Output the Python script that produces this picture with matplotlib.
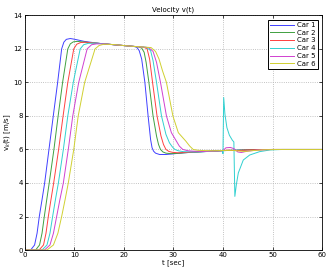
import matplotlib
matplotlib.use("Agg")
import matplotlib.pyplot as plt

# lecture a l'oeil des courbes de vitesse (t en s, v en m/s)
t_car1 = [0, 1.2, 2.0, 2.5, 2.95, 3.5, 4.03, 4.9, 5.77, 6.65, 7.46, 7.9, 8.4, 9.2, 10, 12, 15, 18, 20, 22,
          22.6, 23.1, 23.6, 24.25, 24.9, 25.4, 25.7, 26.0, 26.4, 27.2, 28.5, 30, 32, 35, 38, 40, 43, 46, 50, 60]
v_car1 = [0, 0, 0.3, 1.0, 2.0, 3.0, 4.0, 6.0, 8.0, 10.0, 12.0, 12.4, 12.57, 12.62, 12.58, 12.45, 12.33, 12.25, 12.2, 12.15,
          12.1, 11.9, 11.4, 10.0, 8.0, 6.6, 6.1, 5.9, 5.78, 5.7, 5.7, 5.74, 5.8, 5.85, 5.9, 5.93, 5.96, 5.99, 6.0, 6.0]

t_car2 = [0, 2.2, 3.0, 3.5, 3.96, 4.45, 4.95, 5.9, 6.75, 7.65, 8.7, 9.2, 9.8, 10.6, 11.5, 13, 15, 18, 20, 22,
          23, 23.6, 24.1, 24.5, 25.06, 25.9, 26.6, 27.0, 27.4, 27.9, 28.5, 29.5, 31, 33, 36, 40, 43, 46, 50, 60]
v_car2 = [0, 0, 0.3, 1.0, 2.0, 3.0, 4.0, 6.0, 8.0, 10.0, 12.0, 12.3, 12.42, 12.45, 12.42, 12.38, 12.33, 12.25, 12.2, 12.15,
          12.12, 12.05, 11.8, 11.2, 10.0, 8.0, 6.8, 6.3, 6.0, 5.85, 5.78, 5.75, 5.77, 5.82, 5.87, 5.93, 5.96, 5.99, 6.0, 6.0]

t_car3 = [0, 2.9, 3.8, 4.3, 4.77, 5.3, 5.85, 6.85, 7.75, 8.7, 9.9, 10.5, 11.3, 12.3, 13.5, 15, 18, 20, 22,
          24, 24.7, 25.2, 25.8, 26.7, 27.5, 28.0, 28.5, 29.1, 29.8, 31, 33, 36, 40, 41, 42.5, 45, 50, 60]
v_car3 = [0, 0, 0.3, 1.0, 2.0, 3.0, 4.0, 6.0, 8.0, 10.0, 12.0, 12.28, 12.38, 12.4, 12.37, 12.33, 12.25, 12.2, 12.15,
          12.11, 12.0, 11.4, 10.0, 8.0, 6.8, 6.3, 6.0, 5.88, 5.83, 5.8, 5.83, 5.88, 5.93, 5.96, 5.93, 5.97, 6.0, 6.0]

t_car4 = [0, 3.5, 4.5, 5.1, 5.64, 6.2, 6.8, 7.8, 8.7, 9.8, 11.2, 11.9, 12.8, 14, 15, 18, 20, 22,
          24.5, 25.4, 25.9, 26.6, 27.6, 28.5, 29.2, 29.8, 30.3, 31, 32, 34, 37, 39.9,
          40.0, 40.15, 40.4, 40.8, 41.3, 41.9, 42.2, 42.4, 42.7, 43.1, 44.1, 45.4, 47.4, 49.5, 52, 60]
v_car4 = [0, 0, 0.3, 1.0, 2.0, 3.0, 4.0, 6.0, 8.0, 10.0, 12.0, 12.25, 12.33, 12.35, 12.33, 12.25, 12.2, 12.15,
          12.1, 11.9, 11.3, 10.0, 8.0, 6.9, 6.4, 6.15, 6.0, 5.92, 5.87, 5.85, 5.88, 5.93,
          5.75, 9.1, 8.1, 7.3, 6.85, 6.55, 6.45, 3.2, 3.9, 4.6, 5.37, 5.67, 5.87, 5.97, 6.0, 6.0]

t_car5 = [0, 4.0, 5.1, 5.8, 6.45, 7.1, 7.8, 8.8, 9.7, 10.9, 12.6, 13.5, 14.5, 16, 18, 20, 22,
          25, 25.9, 26.6, 27.4, 28.6, 29.6, 30.6, 31.2, 31.9, 33, 34, 36, 38,
          40, 40.6, 41.5, 42.2, 43, 43.7, 45, 47, 50, 60]
v_car5 = [0, 0, 0.3, 1.0, 2.0, 3.0, 4.0, 6.0, 8.0, 10.0, 12.0, 12.25, 12.3, 12.3, 12.25, 12.2, 12.15,
          12.08, 11.85, 11.2, 10.0, 8.0, 7.0, 6.5, 6.2, 6.0, 5.92, 5.9, 5.88, 5.9,
          5.93, 6.1, 6.12, 6.05, 5.85, 5.82, 5.9, 5.97, 6.0, 6.0]

t_car6 = [0, 4.5, 5.8, 6.7, 7.46, 8.15, 8.8, 9.9, 10.8, 12.1, 14.2, 15.0, 16, 18, 20, 22,
          25.5, 26.4, 27.1, 27.8, 28.6, 29.9, 31, 32.5, 33.3, 34, 35, 36.5, 38,
          40, 42, 43.5, 44.5, 46, 48, 51, 60]
v_car6 = [0, 0, 0.3, 1.0, 2.0, 3.0, 4.0, 6.0, 8.0, 10.0, 12.0, 12.2, 12.28, 12.26, 12.2, 12.15,
          12.08, 11.85, 11.4, 10.7, 10.0, 8.0, 7.0, 6.5, 6.2, 6.0, 5.95, 5.93, 5.92,
          5.94, 5.95, 5.9, 5.88, 5.93, 5.98, 6.0, 6.0]

labels = ["Car 1", "Car 2", "Car 3", "Car 4", "Car 5", "Car 6"]
couleurs = ["#4040ff", "#40a040", "#ff4040", "#30d0d0", "#d040d0", "#d0d030"]

fig = plt.figure(figsize=(3.29, 2.70), dpi=100)
ax = fig.add_axes([0.075, 0.074, 0.904, 0.869])

courbes = [(t_car1, v_car1), (t_car2, v_car2), (t_car3, v_car3),
           (t_car4, v_car4), (t_car5, v_car5), (t_car6, v_car6)]
for k in range(len(courbes)):
    ax.plot(courbes[k][0], courbes[k][1], color=couleurs[k], linewidth=0.7, label=labels[k])

ax.set_xlim(0, 60)
ax.set_ylim(0, 14)
ax.set_xticks(range(0, 61, 10))
ax.set_yticks(range(0, 15, 2))
ax.grid(True, linestyle=':', color='#b0b0b0', linewidth=0.6)
ax.tick_params(direction='in', top=True, right=True, labelsize=5, length=2.5, width=0.5, pad=1.5)
for s in ax.spines.values():
    s.set_linewidth(0.6)

ax.set_title("Velocity v(t)", fontsize=5, pad=3)
ax.set_xlabel("t [sec]", fontsize=5, labelpad=0.5)
ax.set_ylabel(r"v$_k$(t) [m/s]", fontsize=5, labelpad=0.5)

leg = ax.legend(loc='upper right', fontsize=5, fancybox=False, framealpha=1,
                handlelength=3.4, borderpad=0.35, labelspacing=0.25, handletextpad=0.4,
                borderaxespad=0.6)
leg.get_frame().set_edgecolor('black')
leg.get_frame().set_linewidth(0.7)

plt.savefig("out.png", dpi=100)
plt.close()
